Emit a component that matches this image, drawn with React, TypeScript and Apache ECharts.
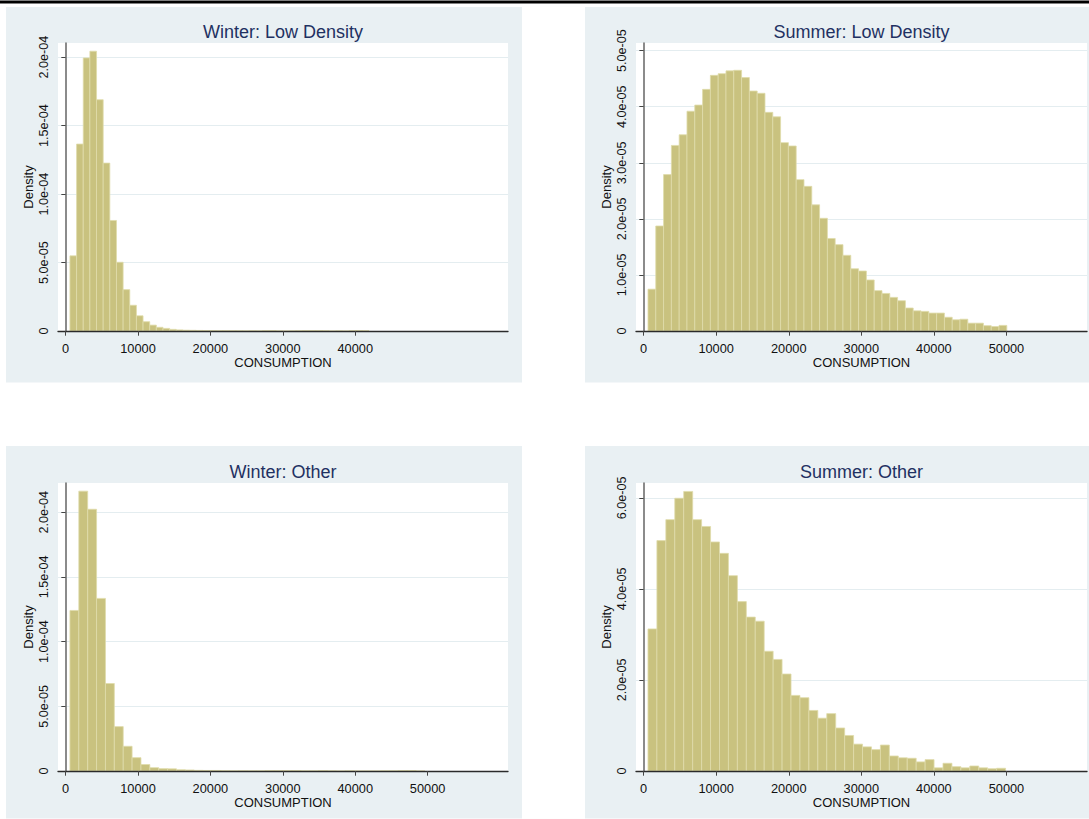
import React, { useEffect, useRef } from "react";
import * as echarts from "echarts";

// ---------- data ----------
const panelTitles = ["Winter: Low Density", "Summer: Low Density", "Winter: Other", "Summer: Other"];
const xAxisTitle = "CONSUMPTION";
const yAxisTitle = "Density";

// histogram bins: first left edge, bin width, densities
const winterLowStart = 600;
const winterLowWidth = 918;
const winterLowDensity = [
  5.49e-5, 1.365e-4, 1.994e-4, 2.043e-4, 1.689e-4, 1.226e-4, 8.07e-5, 5.02e-5, 3.02e-5, 1.88e-5,
  1.11e-5, 6.8e-6, 4.3e-6, 2.7e-6, 1.9e-6, 1.2e-6, 8e-7, 6e-7, 5e-7, 4e-7,
  3.5e-7, 3e-7, 2.5e-7, 2.5e-7, 2e-7, 1.5e-7, 1e-7, 1e-7, 1e-7, 3e-7,
  3e-7, 1e-7, 0, 1e-7, 2e-7, 3e-7, 3e-7, 3e-7, 2e-7, 0,
  1e-7, 0, 2e-7, 3e-7, 2e-7,
];

const summerLowStart = 600;
const summerLowWidth = 1075;
const summerLowDensity = [
  7.46e-6, 1.873e-5, 2.79e-5, 3.31e-5, 3.5e-5, 3.92e-5, 4.03e-5, 4.31e-5, 4.56e-5, 4.59e-5,
  4.64e-5, 4.65e-5, 4.52e-5, 4.28e-5, 4.24e-5, 3.9e-5, 3.82e-5, 3.36e-5, 3.3e-5, 2.7e-5,
  2.58e-5, 2.25e-5, 2.01e-5, 1.65e-5, 1.54e-5, 1.35e-5, 1.11e-5, 1.07e-5, 9.1e-6, 7.2e-6,
  6.7e-6, 6.0e-6, 5.4e-6, 4.1e-6, 3.6e-6, 3.5e-6, 3.2e-6, 3.2e-6, 2.45e-6, 2.0e-6,
  2.1e-6, 1.4e-6, 1.4e-6, 9.5e-7, 8e-7, 1.0e-6,
];

const winterOtherStart = 600;
const winterOtherWidth = 1226;
const winterOtherDensity = [
  1.241e-4, 2.163e-4, 2.023e-4, 1.334e-4, 6.76e-5, 3.43e-5, 1.91e-5, 1.03e-5, 5.0e-6, 2.6e-6,
  1.8e-6, 1.7e-6, 1.0e-6, 8e-7, 5e-7, 4e-7, 4e-7, 2e-7, 1e-7, 1e-7,
  1e-7, 1e-7, 3e-7, 3e-7, 3e-7, 3e-7, 1e-7, 1e-7, 3e-7, 1e-7,
  0, 1e-7, 0, 0, 0, 1e-7, 1e-7, 3e-7, 3e-7, 0,
];

const summerOtherStart = 600;
const summerOtherWidth = 1232;
const summerOtherDensity = [
  3.12e-5, 5.06e-5, 5.52e-5, 5.99e-5, 6.14e-5, 5.52e-5, 5.37e-5, 5.03e-5, 4.78e-5, 4.29e-5,
  3.72e-5, 3.38e-5, 3.29e-5, 2.63e-5, 2.45e-5, 2.13e-5, 1.66e-5, 1.61e-5, 1.33e-5, 1.16e-5,
  1.26e-5, 9.45e-6, 7.8e-6, 5.9e-6, 5.3e-6, 4.7e-6, 5.7e-6, 3.3e-6, 2.9e-6, 2.8e-6,
  2.0e-6, 2.5e-6, 7e-7, 1.7e-6, 9.5e-7, 7e-7, 1.1e-6, 7e-7, 5e-7, 6e-7,
];

// tick values
const xTicksWinterLow = [0, 10000, 20000, 30000, 40000];
const xTicksOthers = [0, 10000, 20000, 30000, 40000, 50000];
const yTicksWinter = [0, 5e-5, 1e-4, 1.5e-4, 2e-4];
const yTicksSummerLow = [0, 1e-5, 2e-5, 3e-5, 4e-5, 5e-5];
const yTicksSummerOther = [0, 2e-5, 4e-5, 6e-5];

// axis ranges
const xRange = [-1050, 61100];
const yMaxes = [2.103e-4, 5.137e-5, 2.226e-4, 6.325e-5];

// ---------- styling / layout ----------
const FONT = "'Liberation Sans', Arial, Helvetica, sans-serif";
const BAR_FILL = "#c9c27f";
const BAR_EDGE = "#e0dcab";
const PANEL_BG = "#e9f0f3";
const GRID_LINE = "#e4edf0";
const TITLE_COLOR = "#1f3162";

const layouts = [
  { bg: [6, 7, 516, 375.5], grid: { left: 58, top: 43, width: 450, height: 288 } },
  { bg: [585, 7, 504, 375.5], grid: { left: 636, top: 43, width: 451, height: 288 } },
  { bg: [6, 446, 516, 372.5], grid: { left: 58, top: 483, width: 450, height: 288 } },
  { bg: [585, 446, 504, 372.5], grid: { left: 636, top: 483, width: 451, height: 288 } },
];

const bins = (start: number, width: number, dens: number[]) =>
  dens.map((d, i) => [start + i * width, start + (i + 1) * width, d]);

const panelData = [
  bins(winterLowStart, winterLowWidth, winterLowDensity),
  bins(summerLowStart, summerLowWidth, summerLowDensity),
  bins(winterOtherStart, winterOtherWidth, winterOtherDensity),
  bins(summerOtherStart, summerOtherWidth, summerOtherDensity),
];
const panelXTicks = [xTicksWinterLow, xTicksOthers, xTicksOthers, xTicksOthers];
const panelYTicks = [yTicksWinter, yTicksSummerLow, yTicksWinter, yTicksSummerOther];

const fmtY = (v: number) =>
  Math.abs(v) < 1e-12
    ? "0"
    : Number(v.toPrecision(3))
        .toExponential(1)
        .replace(/e([+-])(\d)$/, (_m: string, s: string, d: string) => "e" + s + "0" + d);

const fmtX = (v: number) => String(Math.round(v));

export default function App() {
  const ref = useRef<HTMLDivElement>(null);

  useEffect(() => {
    if (!ref.current) return;
    const chart = echarts.init(ref.current, undefined, { renderer: "svg" });

    const grid = layouts.map((l) => ({
      ...l.grid,
      show: true,
      backgroundColor: "#ffffff",
      borderWidth: 0,
      containLabel: false,
    }));

    const xAxis = layouts.map((_l, i) => ({
      gridIndex: i,
      type: "value",
      min: xRange[0],
      max: xRange[1],
      z: 5,
      name: xAxisTitle,
      nameLocation: "middle",
      nameGap: 22,
      nameTextStyle: { fontSize: 13, color: "#111", fontFamily: FONT },
      axisLine: { show: true, onZero: false, lineStyle: { color: "#2b2b2b", width: 1.3 } },
      axisTick: { show: true, customValues: panelXTicks[i], length: 4.7, lineStyle: { color: "#444", width: 1 } },
      axisLabel: {
        customValues: panelXTicks[i],
        margin: 11,
        fontSize: 12.8,
        color: "#111",
        fontFamily: FONT,
        formatter: (v: number) => fmtX(v),
      },
      splitLine: { show: false },
    }));

    const yAxis = layouts.map((_l, i) => ({
      gridIndex: i,
      type: "value",
      min: 0,
      max: yMaxes[i],
      name: yAxisTitle,
      nameLocation: "middle",
      nameGap: 23,
      nameTextStyle: { fontSize: 13, color: "#111", fontFamily: FONT },
      axisLine: { show: true, lineStyle: { color: "#777", width: 1.7 } },
      axisTick: { show: true, customValues: panelYTicks[i], length: 4.3, lineStyle: { color: "#444", width: 1 } },
      axisLabel: {
        customValues: panelYTicks[i],
        rotate: 90,
        margin: 8,
        fontSize: 12.6,
        color: "#111",
        fontFamily: FONT,
        formatter: (v: number) => fmtY(v),
      },
      splitLine: { show: true, lineStyle: { color: GRID_LINE, width: 1 } },
    }));

    const series = panelData.map((data, i) => ({
      type: "custom",
      xAxisIndex: i,
      yAxisIndex: i,
      data,
      encode: { x: [0, 1], y: 2 },
      renderItem: (_params: any, api: any) => {
        const p0 = api.coord([api.value(0), 0]);
        const p1 = api.coord([api.value(1), api.value(2)]);
        return {
          type: "rect",
          shape: { x: p0[0], y: p1[1], width: p1[0] - p0[0], height: p0[1] - p1[1] },
          style: { fill: BAR_FILL, stroke: BAR_EDGE, lineWidth: 0.8 },
        };
      },
    }));

    const graphic: any[] = [];
    layouts.forEach((l, i) => {
      graphic.push({
        type: "rect",
        z: -10,
        shape: { x: l.bg[0], y: l.bg[1], width: l.bg[2], height: l.bg[3] },
        style: { fill: PANEL_BG },
      });
      graphic.push({
        type: "text",
        z: 10,
        x: l.grid.left + l.grid.width / 2,
        y: l.grid.top - 11.5,
        style: {
          text: panelTitles[i],
          textAlign: "center",
          textVerticalAlign: "middle",
          fontSize: 18,
          fontFamily: FONT,
          fill: TITLE_COLOR,
        },
      });
    });
    graphic.push({
      type: "rect",
      z: 10,
      shape: { x: 0, y: 0.5, width: 1089, height: 3 },
      style: { fill: "#000" },
    });

    chart.setOption({
      animation: false,
      backgroundColor: "#ffffff",
      grid,
      xAxis,
      yAxis,
      series,
      graphic,
    } as any);

    return () => chart.dispose();
  }, []);

  return (
    <div
      ref={ref}
      style={{ position: "absolute", left: 0, top: 0, width: 1089, height: 819 }}
    />
  );
}
